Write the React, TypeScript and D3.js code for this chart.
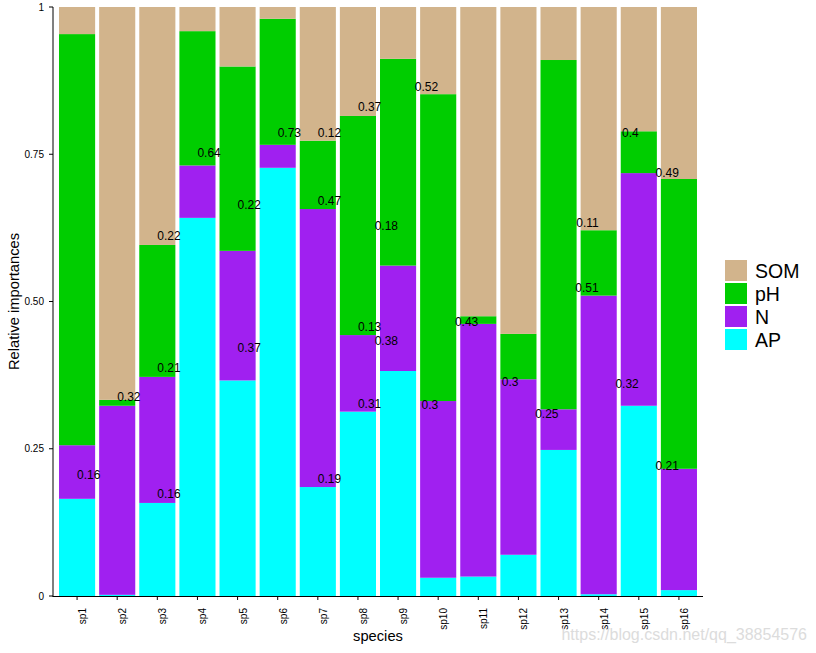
import React, { useRef, useEffect } from 'react';
import * as d3 from 'd3';

const species = ['sp1', 'sp2', 'sp3', 'sp4', 'sp5', 'sp6', 'sp7', 'sp8', 'sp9', 'sp10', 'sp11', 'sp12', 'sp13', 'sp14', 'sp15', 'sp16'];
const apValues = [0.165, 0.002, 0.158, 0.642, 0.366, 0.727, 0.185, 0.313, 0.382, 0.031, 0.033, 0.070, 0.248, 0.003, 0.323, 0.010];
const nValues = [0.091, 0.321, 0.214, 0.089, 0.220, 0.039, 0.472, 0.130, 0.179, 0.300, 0.429, 0.298, 0.069, 0.507, 0.395, 0.206];
const phValues = [0.698, 0.010, 0.224, 0.228, 0.313, 0.214, 0.116, 0.372, 0.351, 0.521, 0.013, 0.077, 0.593, 0.111, 0.071, 0.492];
const somValues = [0.046, 0.667, 0.404, 0.041, 0.101, 0.020, 0.227, 0.185, 0.088, 0.148, 0.525, 0.555, 0.090, 0.379, 0.211, 0.292];

// stacking order, bottom to top
const factors = ['AP', 'N', 'pH', 'SOM'];
const factorColors = ['#00FFFF', '#A020F0', '#00CD00', '#D2B48C'];

// value labels as they sit in the figure
const labelSpecies = ['sp1', 'sp2', 'sp3', 'sp3', 'sp3', 'sp4', 'sp5', 'sp5', 'sp6', 'sp7', 'sp7', 'sp7', 'sp8', 'sp8', 'sp8', 'sp9', 'sp9', 'sp10', 'sp10', 'sp11', 'sp12', 'sp13', 'sp14', 'sp14', 'sp15', 'sp15', 'sp16', 'sp16'];
const labelText = ['0.16', '0.32', '0.22', '0.21', '0.16', '0.64', '0.22', '0.37', '0.73', '0.12', '0.47', '0.19', '0.37', '0.13', '0.31', '0.18', '0.38', '0.52', '0.3', '0.43', '0.3', '0.25', '0.11', '0.51', '0.4', '0.32', '0.49', '0.21'];
const labelValue = [0.205, 0.338, 0.611, 0.387, 0.173, 0.753, 0.665, 0.422, 0.786, 0.787, 0.671, 0.199, 0.830, 0.457, 0.327, 0.629, 0.434, 0.864, 0.325, 0.465, 0.364, 0.310, 0.634, 0.523, 0.787, 0.360, 0.719, 0.221];

const yTicks = [0, 0.25, 0.5, 0.75, 1];
const yTickLabels = ['0', '0.25', '0.50', '0.75', '1'];

const font = "'Liberation Sans', Arial, sans-serif";

const App = () => {
  const svgRef = useRef(null);
  const width = 816;
  const height = 653;
  const left = 53;
  const right = 703;
  const top = 7;
  const bottom = 596;

  useEffect(() => {
    const svg = d3.select(svgRef.current);
    svg.selectAll('*').remove();

    const x = d3.scaleBand()
      .domain(species)
      .range([left, right])
      .paddingInner(0.1)
      .paddingOuter(0.15);
    const y = d3.scaleLinear().domain([0, 1]).range([bottom, top]);

    const rows = species.map((s, i) => ({
      species: s,
      AP: apValues[i],
      N: nValues[i],
      pH: phValues[i],
      SOM: somValues[i],
    }));
    const series = d3.stack().keys(factors)(rows as any);

    svg.append('g')
      .selectAll('g')
      .data(series)
      .enter()
      .append('g')
        .attr('fill', (d, i) => factorColors[i])
      .selectAll('rect')
      .data(d => d)
      .enter()
      .append('rect')
        .attr('x', d => x((d.data as any).species))
        .attr('y', d => y(d[1]))
        .attr('width', x.bandwidth())
        .attr('height', d => y(d[0]) - y(d[1]));

    // labels pushed towards the middle of the panel, like hjust = "inward"
    const mid = (left + right) / 2;
    svg.append('g')
      .selectAll('text')
      .data(labelText)
      .enter()
      .append('text')
        .attr('x', (d, i) => x(labelSpecies[i]) + x.bandwidth() / 2)
        .attr('y', (d, i) => y(labelValue[i]))
        .attr('dy', '0.35em')
        .attr('text-anchor', (d, i) => (x(labelSpecies[i]) + x.bandwidth() / 2 < mid ? 'start' : 'end'))
        .style('font-family', font)
        .style('font-size', '12px')
        .attr('fill', '#000')
        .text(d => d);

    // y axis
    const yAxis = svg.append('g');
    yAxis.append('line')
      .attr('x1', left).attr('x2', left)
      .attr('y1', top).attr('y2', bottom + 0.5)
      .attr('stroke', '#000');
    const yt = yAxis.selectAll('g.tick')
      .data(yTicks)
      .enter()
      .append('g')
        .attr('transform', d => `translate(0,${y(d)})`);
    yt.append('line')
      .attr('x1', left - 4).attr('x2', left)
      .attr('stroke', '#000');
    yt.append('text')
      .attr('x', left - 9)
      .attr('dy', '0.35em')
      .attr('text-anchor', 'end')
      .style('font-family', font)
      .style('font-size', '10px')
      .attr('fill', '#000')
      .text((d, i) => yTickLabels[i]);

    // x axis
    const xAxis = svg.append('g');
    xAxis.append('line')
      .attr('x1', left - 0.5).attr('x2', right)
      .attr('y1', bottom + 0.5).attr('y2', bottom + 0.5)
      .attr('stroke', '#000');
    const xt = xAxis.selectAll('g.tick')
      .data(species)
      .enter()
      .append('g')
        .attr('transform', d => `translate(${x(d) + x.bandwidth() / 2},0)`);
    xt.append('line')
      .attr('y1', bottom).attr('y2', bottom + 4)
      .attr('stroke', '#000');
    xt.append('text')
      .attr('transform', `translate(9,${bottom + 12}) rotate(-90)`)
      .attr('text-anchor', 'end')
      .style('font-family', font)
      .style('font-size', '10px')
      .attr('fill', '#000')
      .text(d => d);

    // axis titles
    svg.append('text')
      .attr('x', mid)
      .attr('y', 641)
      .attr('text-anchor', 'middle')
      .style('font-family', font)
      .style('font-size', '14.7px')
      .text('species');
    svg.append('text')
      .attr('transform', `translate(19,${(top + bottom) / 2}) rotate(-90)`)
      .attr('text-anchor', 'middle')
      .style('font-family', font)
      .style('font-size', '14.7px')
      .text('Relative importances');

    // legend, SOM on top like the stack
    const legend = svg.append('g').attr('transform', 'translate(725,260)');
    const keys = legend.selectAll('g')
      .data(factors.slice().reverse())
      .enter()
      .append('g')
        .attr('transform', (d, i) => `translate(0,${i * 23})`);
    keys.append('rect')
      .attr('width', 22)
      .attr('height', 21)
      .attr('fill', d => factorColors[factors.indexOf(d)]);
    keys.append('text')
      .attr('x', 30)
      .attr('y', 18)
      .style('font-family', font)
      .style('font-size', '19.5px')
      .text(d => d);

    svg.append('text')
      .attr('x', 807)
      .attr('y', 640)
      .attr('text-anchor', 'end')
      .style('font-family', font)
      .style('font-size', '16px')
      .attr('fill', '#dcdcdc')
      .text('https://blog.csdn.net/qq_38854576');
  }, [svgRef]);

  return (
    <svg
      ref={svgRef}
      width={width}
      height={height}
      style={{ position: 'absolute', left: 0, top: 0, background: '#fff' }}
    ></svg>
  );
};

export default App;
